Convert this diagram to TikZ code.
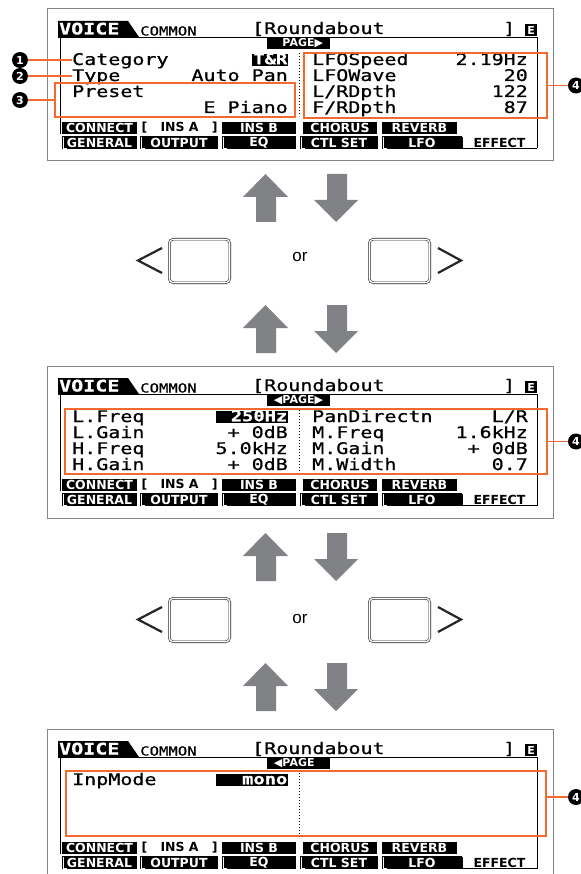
\documentclass[tikz,border=0pt]{standalone}
\usepackage{fontspec}
\setmainfont{Liberation Sans}
\newfontfamily\lcd[FakeStretch=1.25,FakeBold=0.8]{DejaVu Sans Mono}
\newfontfamily\tabfont{DejaVu Sans}
\usetikzlibrary{positioning,fit}
\definecolor{callorange}{HTML}{F26A2E}
\definecolor{arrowgray}{HTML}{808285}
\definecolor{framegray}{HTML}{858585}

% 屏幕外框、标题栏和标签页
\newcommand{\lcdscreen}[3]{%
\begin{scope}[shift={(0,#1)}]
  \draw[scrframe] (47,9) rectangle (553,161);
  \fill (58,21) -- (128,21) -- (139,37) -- (58,37) -- cycle;
  \node[lcdtxt, text=white, font=\lcd\bfseries\fontsize{16}{16}\selectfont] (voice#2) at (59,29.5) {VOICE};
  \node[lcdtxt, font=\lcd\fontsize{12.5}{12.5}\selectfont] (common#2) at (140,30.5) {COMMON};
  \node[lcdtxt] (title#2) at (252,29) {[Roundabout};
  \node[lcdtxt] (rb#2) at (503,29) {]};
  \node[hl, font=\tabfont\bfseries\fontsize{11}{11}\selectfont, minimum size=12.5] (edit#2) at (531,30) {E};
  \draw (58,37) -- (538,37);
  \draw (60,37) -- (60,134) (537,37) -- (537,148.5);
  \node[pagebox] (page#2) at (298.5,43.5) {#3};
  % 第一排
  \foreach \a/\b/\t [count=\i] in {62/137/CONNECT,222/296/INS B,303/377/CHORUS,382/457/REVERB}
    \node[tabblk, minimum width=\b-\a] (ta\i#2) at ({(\a+\b)/2},128) {\t};
  \node[tabtxt, text width=76] (insa#2) at (179.5,128) {[\hfill INS A\hfill]};
  % 第二排
  \foreach \a/\b/\t [count=\i] in {62/137/GENERAL,140/218/OUTPUT,222/296/EQ,300/378/CTL SET,382/462/LFO}{
    \node[tabblk, minimum width=\b-\a] (tb\i#2) at ({(\a+\b)/2},142.5) {\t};
    \draw[white, line width=0.8] (\a+1.5,137) -- (\a+1.5,148) -- (\a+5,148);
  }
  \node[tabtxt] (effect#2) at (499.5,143) {EFFECT};
  \draw (462,137) -- (462,148.5) -- (537,148.5);
  \draw[dotted, line width=1] (299,53) -- (299,116); % 分栏虚线
\end{scope}}

\begin{document}
\begin{tikzpicture}[
    x=1pt, y=-1pt,
    scrframe/.style={draw=framegray, line width=1},
    lcdtxt/.style={anchor=west, inner sep=0, text height=12.5, text depth=2.5, font=\lcd\fontsize{16}{16}\selectfont},
    lcdval/.style={lcdtxt, anchor=east},
    hl/.style={fill=black, text=white, inner xsep=1, inner ysep=0.5, text height=10, text depth=1.5, font=\lcd\bfseries\fontsize{15}{15}\selectfont},
    pagebox/.style={fill=black, text=white, minimum width=63, minimum height=11, inner sep=0, font=\tabfont\bfseries\fontsize{11}{11}\selectfont},
    tabblk/.style={fill=black, text=white, minimum height=12.5, inner sep=0, font=\tabfont\bfseries\fontsize{12.5}{12.5}\selectfont},
    tabtxt/.style={inner sep=0, font=\tabfont\bfseries\fontsize{12.5}{12.5}\selectfont},
    obox/.style={draw=callorange, line width=1.6, inner sep=0},
    callout/.style={draw=callorange, line width=1.6},
    num/.style={circle, fill=black, text=white, minimum size=16, inner sep=0, font=\tabfont\bfseries\fontsize{11}{11}\selectfont},
    keybtn/.style={draw=black!85, double, double distance=1.3, line width=0.6, rounded corners=4, minimum width=60.5, minimum height=43.5, inner sep=0},
    brk/.style={draw=black!85, line width=2.2},
    bigarrow/.style={fill=arrowgray}
  ]
\path[use as bounding box, fill=white] (0,0) rectangle (580,874);

% 画面 1
\lcdscreen{0}{a}{\phantom{◀}PAGE▶}
\node[lcdtxt] (cat) at (72,60) {Category};
\node[hl, anchor=east] (catv) at (288.5,60) {T\&R};
\node[lcdtxt] (type) at (72,76) {Type};
\node[lcdval] (typev) at (288,76) {Auto Pan};
\node[lcdtxt] (pre) at (72,92) {Preset};
\node[lcdval] (prev) at (288,108) {E Piano};
\node[lcdtxt] (lfos) at (312,60) {LFOSpeed};  \node[lcdval] (lfosv) at (528,60) {2.19Hz};
\node[lcdtxt] (lfow) at (312,76) {LFOWave};   \node[lcdval] (lfowv) at (528,76) {20};
\node[lcdtxt] (lrd) at (312,92) {L/RDpth};    \node[lcdval] (lrdv) at (528,92) {122};
\node[lcdtxt] (frd) at (312,108) {F/RDpth};   \node[lcdval] (frdv) at (528,108) {87};
\node[obox, fit={(55,83) (295,117)}] (box3) {};
\node[obox, fit={(304,53) (547,118)}] (box4a) {};
\node[num] (n1) at (20,60) {1};
\node[num] (n2) at (20,76) {2};
\node[num] (n3) at (20,100) {3};
\node[num] (n4a) at (576,85.5) {4};
\draw[callout] (n1) -- (cat.west);
\draw[callout] (n2) -- (type.west);
\draw[callout] (n3) -- (box3.west);
\draw[callout] (box4a.east) -- (n4a);

% 上下箭头
\foreach \t in {174,305,533,663}{
  \fill[bigarrow] (265.5,\t) -- (288,\t+23) -- (276,\t+23) -- (276,\t+48) -- (256,\t+48) -- (256,\t+23) -- (243,\t+23) -- cycle;
  \fill[bigarrow] (327,\t) -- (347,\t) -- (347,\t+26) -- (358,\t+26) -- (336,\t+48) -- (314,\t+26) -- (327,\t+26) -- cycle;
}

% 左右按钮
\foreach \c/\o [count=\i] in {261/257,620/619}{
  \node[keybtn] (kl\i) at (199.5,\c) {};
  \node[keybtn] (kr\i) at (399.5,\c) {};
  \node[font=\fontsize{17}{17}\selectfont] (or\i) at (300,\o) {or};
  \draw[brk] (162,\c-13) -- (138,\c-0.5) -- (162,\c+12);
  \draw[brk] (438,\c-13) -- (461,\c-0.5) -- (438,\c+12);
}

% 画面 2
\lcdscreen{357}{b}{◀PAGE▶}
\begin{scope}[shift={(0,357)}]
  \node[lcdtxt] (lf) at (72,60) {L.Freq};  \node[hl, anchor=east, text width=70, align=right] (lfv) at (288.5,60) {250Hz};
  \node[lcdtxt] (lg) at (72,76) {L.Gain};  \node[lcdval] (lgv) at (288,76) {+ 0dB};
  \node[lcdtxt] (hf) at (72,92) {H.Freq};  \node[lcdval] (hfv) at (288,92) {5.0kHz};
  \node[lcdtxt] (hg) at (72,108) {H.Gain}; \node[lcdval] (hgv) at (288,108) {+ 0dB};
  \node[lcdtxt] (pd) at (312,60) {PanDirectn}; \node[lcdval] (pdv) at (528,60) {L/R};
  \node[lcdtxt] (mf) at (312,76) {M.Freq};     \node[lcdval] (mfv) at (528,76) {1.6kHz};
  \node[lcdtxt] (mg) at (312,92) {M.Gain};     \node[lcdval] (mgv) at (528,92) {+ 0dB};
  \node[lcdtxt] (mw) at (312,108) {M.Width};   \node[lcdval] (mwv) at (528,108) {0.7};
  \node[obox, fit={(65,52) (547,117)}] (box4b) {};
  \node[num] (n4b) at (576,84.5) {4};
  \draw[callout] (box4b.east) -- (n4b);
\end{scope}

% 画面 3
\lcdscreen{720}{c}{◀PAGE\phantom{▶}}
\begin{scope}[shift={(0,720)}]
  \node[lcdtxt] (inp) at (72,60) {InpMode};
  \node[hl, anchor=east, text width=70, align=right] (inpv) at (288.5,60) {mono};
  \node[obox, fit={(66,51) (546,116)}] (box4c) {};
  \node[num] (n4c) at (576,77) {4};
  \draw[callout] (n4c -| box4c.east) -- (n4c);
\end{scope}
\end{tikzpicture}
\end{document}
